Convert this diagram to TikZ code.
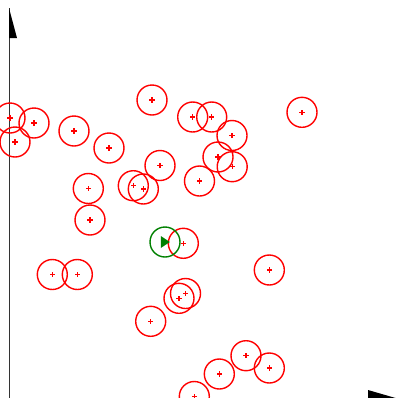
\documentclass[tikz,border=0pt]{standalone}
\begin{document}
\begin{tikzpicture}[x=1pt,y=-1pt,
  ring/.style={circle,draw=red,line width=1.4pt,minimum size=30pt,inner sep=0pt,outer sep=0pt},
  goal/.style={circle,draw=green!50!black,line width=1.4pt,minimum size=30pt,inner sep=0pt,outer sep=0pt},
  cross/.style={fill=red},
  axis/.style={black!80,line width=0.9pt}]
\useasboundingbox (0,0) rectangle (398,397);
% axes
\coordinate (o) at (9,399);
\coordinate (ytip) at (9,8);
\coordinate (xtip) at (399,399);
\draw[axis] (o) -- (ytip);
\draw[axis] (o) -- (xtip);
\fill[black] (ytip) -- ++(0,30) -- ++(8,0) -- cycle;
\fill[black] (xtip) -- ++(-31,0) -- ++(0,-9) -- cycle;
% obstacles
\foreach \x/\y [count=\i] in {
  152/100, 10/118, 34/123, 15/142, 74/131, 109/148, 160/165.5,
  88.3/188.5, 133.3/185.7, 143.3/189, 192.7/117, 211.7/117, 232/135.5,
  218/157, 232.2/166.7, 199.5/181, 302/112.3, 90/220, 183.3/243.3,
  52.3/274.5, 77.3/274.5, 179/298.3, 185.5/293.5, 150.7/321.3,
  269.3/270, 246/355.7, 269.3/368, 219.3/374, 194.3/396.5} {
  \node[ring] (c\i) at (\x,\y) {};
  \path[cross] ([shift={(-2.6pt,-0.65pt)}]c\i.center) rectangle ([shift={(2.6pt,0.65pt)}]c\i.center);
  \path[cross] ([shift={(-0.65pt,-2.6pt)}]c\i.center) rectangle ([shift={(0.65pt,2.6pt)}]c\i.center);
}
% goal
\node[goal] (g) at (165,242) {};
\fill[green!50!black] ([shift={(-4.2pt,-6pt)}]g.center) -- ([shift={(-4.2pt,6pt)}]g.center)
  -- ([shift={(4.8pt,0pt)}]g.center) -- cycle;
\end{tikzpicture}
\end{document}
